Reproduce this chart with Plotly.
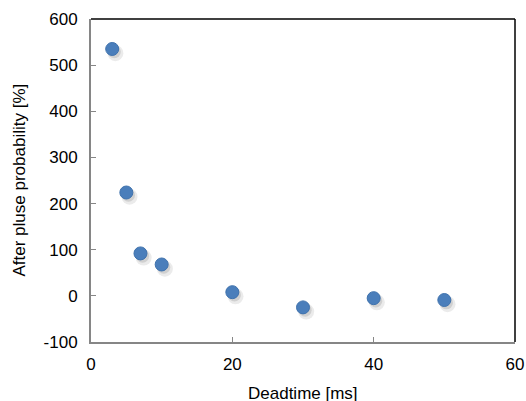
import plotly.graph_objects as go

deadtime_ms = [3, 5, 7, 10, 20, 30, 40, 50]
afterpulse_pct = [535, 224, 92, 68, 8, -25, -5, -9]

x_ticks = [0, 20, 40, 60]
x_tick_labels = ["0", "20", "40", "60"]
y_ticks = [-100, 0, 100, 200, 300, 400, 500, 600]
y_tick_labels = ["-100", "0", "100", "200", "300", "400", "500", "600"]

fig = go.Figure()

# soft shadow (same data, small offset)
fig.add_trace(go.Scatter(
    x=[v + 0.45 for v in deadtime_ms],
    y=[v - 9 for v in afterpulse_pct],
    mode="markers",
    marker=dict(size=16, color="rgba(90,90,90,0.12)", line=dict(width=0)),
    hoverinfo="skip", showlegend=False,
))
fig.add_trace(go.Scatter(
    x=[v + 0.3 for v in deadtime_ms],
    y=[v - 6 for v in afterpulse_pct],
    mode="markers",
    marker=dict(size=13, color="rgba(90,90,90,0.18)", line=dict(width=0)),
    hoverinfo="skip", showlegend=False,
))
fig.add_trace(go.Scatter(
    x=deadtime_ms, y=afterpulse_pct, mode="markers",
    marker=dict(size=13, color="#4a7ebb", line=dict(width=1, color="#3f72ad")),
    showlegend=False,
))

axis_font = dict(family="Liberation Sans, Arial, sans-serif", size=17, color="#000000")

fig.update_xaxes(
    range=[0, 60], tickvals=x_ticks, ticktext=x_tick_labels,
    ticks="inside", ticklen=5, tickcolor="#868686",
    showline=True, linecolor="#868686", linewidth=2, showgrid=False, zeroline=False,
    tickfont=axis_font, automargin=False, ticklabelstandoff=6,
    ticklabeloverflow="allow",
)
fig.update_yaxes(
    range=[-100, 600], tickvals=y_ticks, ticktext=y_tick_labels,
    ticks="inside", ticklen=5, tickcolor="#868686",
    showline=True, linecolor="#868686", linewidth=2, showgrid=False, zeroline=False,
    tickfont=axis_font, automargin=False, ticklabelstandoff=8,
)

fig.add_shape(type="line", xref="paper", yref="paper", x0=0, x1=1, y0=1, y1=1,
              line=dict(color="#000000", width=1.5))
fig.add_shape(type="line", xref="paper", yref="paper", x0=1, x1=1, y0=0, y1=1,
              line=dict(color="#000000", width=1.5))

fig.add_annotation(text="Deadtime [ms]", xref="paper", yref="paper", x=0.5, y=0,
                   xanchor="center", yanchor="middle", yshift=-51, showarrow=False,
                   font=axis_font)
fig.add_annotation(text="After pluse probability [%]", xref="paper", yref="paper",
                   x=0, y=0.5, xanchor="center", yanchor="middle", xshift=-72,
                   textangle=-90, showarrow=False, font=axis_font)

fig.update_layout(
    width=526, height=401,
    margin=dict(l=91, r=11, t=19, b=59),
    plot_bgcolor="white", paper_bgcolor="white",
    font=axis_font,
)

fig.write_html(
    "out.html",
    config={"displayModeBar": False},
    post_script="document.body.style.margin='0';document.body.style.overflow='hidden';"
                "document.documentElement.style.overflow='hidden';",
)
